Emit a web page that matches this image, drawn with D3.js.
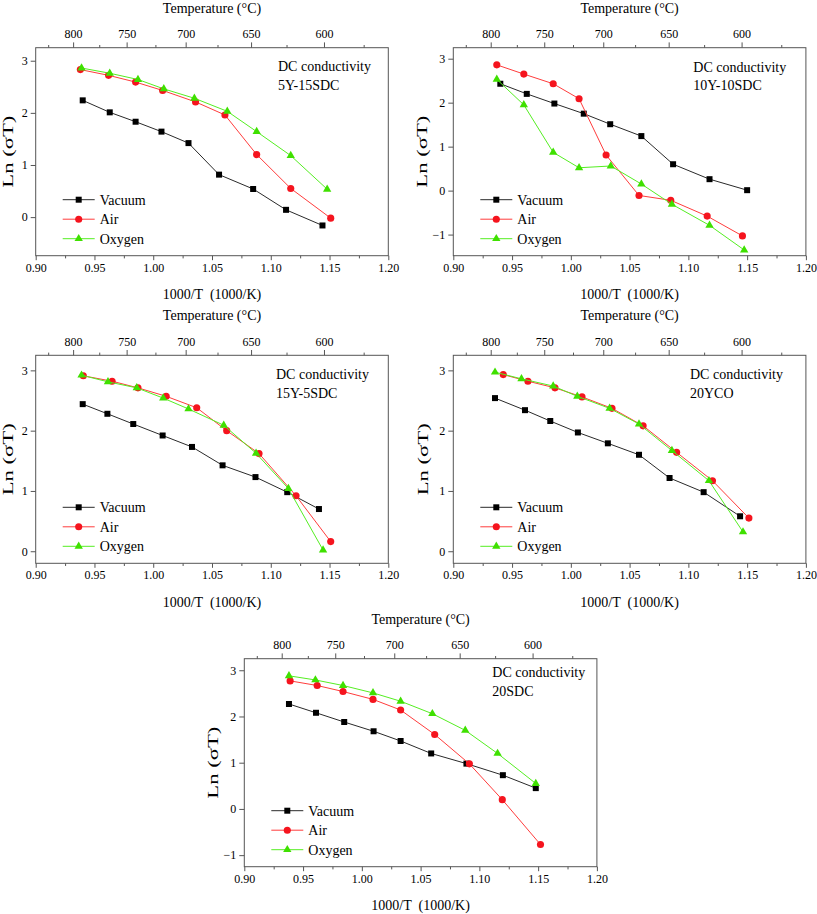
<!DOCTYPE html>
<html>
<head>
<meta charset="utf-8">
<script src="https://cdn.jsdelivr.net/npm/d3@7"></script>
<style>
  body { margin: 0; background: #fff; }
  text { font-family: "Liberation Serif", "Times New Roman", serif; fill: #000; }
</style>
</head>
<body>
<script>
// ---- data ----
let samples = ["5Y-15SDC", "10Y-10SDC", "15Y-5SDC", "20YCO", "20SDC"];
let seriesNames = ["Vacuum", "Air", "Oxygen"];

let xMajor = [0.90, 0.95, 1.00, 1.05, 1.10, 1.15, 1.20];
let xMinor = [0.925, 0.975, 1.025, 1.075, 1.125, 1.175];
let tempMajor = [800, 750, 700, 650, 600];
let tempMinor = [825, 775, 725, 675, 625, 575];

// y axis extent for each panel
let yExtents = [[-0.74, 3.25], [-1.48, 3.25], [-0.2, 3.25], [-0.2, 3.25], [-1.25, 3.25]];

// 5Y-15SDC
let p1Vacuum = [[0.940,2.24],[0.963,2.01],[0.985,1.83],[1.007,1.64],[1.030,1.42],[1.056,0.815],[1.085,0.54],[1.113,0.14],[1.144,-0.16]];
let p1Air    = [[0.938,2.83],[0.962,2.72],[0.985,2.59],[1.008,2.43],[1.036,2.21],[1.061,1.96],[1.088,1.20],[1.117,0.55],[1.151,-0.02]];
let p1Oxygen = [[0.939,2.86],[0.963,2.76],[0.987,2.64],[1.009,2.46],[1.035,2.28],[1.063,2.03],[1.088,1.64],[1.117,1.18],[1.148,0.535]];
// 10Y-10SDC
let p2Vacuum = [[0.940,2.43],[0.9625,2.20],[0.986,1.98],[1.011,1.75],[1.0335,1.51],[1.060,1.24],[1.087,0.60],[1.118,0.26],[1.150,0.01]];
let p2Air    = [[0.937,2.86],[0.960,2.65],[0.985,2.43],[1.007,2.09],[1.030,0.81],[1.058,-0.11],[1.085,-0.22],[1.116,-0.58],[1.146,-1.03]];
let p2Oxygen = [[0.937,2.53],[0.960,1.95],[0.985,0.87],[1.007,0.52],[1.034,0.56],[1.060,0.15],[1.086,-0.31],[1.118,-0.79],[1.1475,-1.35]];
// 15Y-5SDC
let p3Vacuum = [[0.940,2.44],[0.961,2.28],[0.983,2.11],[1.008,1.92],[1.033,1.73],[1.059,1.425],[1.087,1.23],[1.114,0.98],[1.141,0.70]];
let p3Air    = [[0.9405,2.91],[0.965,2.82],[0.987,2.71],[1.011,2.57],[1.037,2.38],[1.0625,2.00],[1.090,1.62],[1.1215,0.92],[1.151,0.16]];
let p3Oxygen = [[0.939,2.92],[0.9615,2.81],[0.986,2.71],[1.0085,2.54],[1.030,2.36],[1.060,2.09],[1.0875,1.625],[1.115,1.04],[1.1445,0.02]];
// 20YCO
let p4Vacuum = [[0.9355,2.54],[0.961,2.34],[0.9825,2.16],[1.006,1.97],[1.0315,1.79],[1.058,1.60],[1.084,1.215],[1.113,0.98],[1.144,0.58]];
let p4Air    = [[0.9425,2.93],[0.9635,2.82],[0.9865,2.71],[1.0095,2.56],[1.035,2.37],[1.0615,2.08],[1.090,1.64],[1.1205,1.17],[1.1515,0.55]];
let p4Oxygen = [[0.9355,2.97],[0.958,2.86],[0.985,2.74],[1.0055,2.57],[1.033,2.37],[1.058,2.11],[1.086,1.67],[1.1175,1.17],[1.1465,0.32]];
// 20SDC
let p5Vacuum = [[0.938,2.27],[0.961,2.08],[0.985,1.88],[1.010,1.68],[1.033,1.47],[1.059,1.20],[1.089,0.98],[1.120,0.73],[1.148,0.45]];
let p5Air    = [[0.939,2.77],[0.962,2.67],[0.984,2.54],[1.0095,2.37],[1.033,2.14],[1.062,1.61],[1.0915,0.975],[1.1195,0.20],[1.152,-0.77]];
let p5Oxygen = [[0.938,2.88],[0.9605,2.79],[0.984,2.67],[1.0095,2.51],[1.033,2.33],[1.060,2.06],[1.088,1.70],[1.1155,1.20],[1.148,0.55]];

let panelData = [
    [p1Vacuum, p1Air, p1Oxygen],
    [p2Vacuum, p2Air, p2Oxygen],
    [p3Vacuum, p3Air, p3Oxygen],
    [p4Vacuum, p4Air, p4Oxygen],
    [p5Vacuum, p5Air, p5Oxygen]
];

// ---- layout ----
let plot_w = 352.6, plot_h = 208;
let panels = [
    {x: 35.7,  y: 47.7,  ylab: 28, txtx: 278,   txty: 71},
    {x: 453.3, y: 47.7,  ylab: 31, txtx: 693.3, txty: 71.5},
    {x: 35.7,  y: 355.3, ylab: 28, txtx: 276,   txty: 379},
    {x: 453.3, y: 355.3, ylab: 30, txtx: 690,   txty: 379},
    {x: 244.3, y: 658.7, ylab: 31, txtx: 492.3, txty: 677}
];
let lineCol   = ["#2a2a2a", "#ff3c3c", "#55ee22"];
let markerCol = ["#000000", "#f5141e", "#3fe000"];
let symbols   = [d3.symbolSquare, d3.symbolCircle, d3.symbolTriangle];
let symSize   = [36, 40, 30];
let axisCol = "#555";

let svg = d3.select('body').append('svg')
    .attr('width', 817)
    .attr('height', 914);

function toInvT(T) { return 1000 / (T + 273.15); }

function styleAxis(g, fs) {
    g.select('.domain').remove();
    g.selectAll('line').attr('stroke', axisCol);
    g.selectAll('text').attr('font-size', fs).attr('font-family', '"Liberation Serif", serif').attr('fill', '#000');
}

function drawPanel(i) {
    let p = panels[i];
    let g = svg.append('g').attr('transform', 'translate(' + p.x + ',' + p.y + ')');
    let x = d3.scaleLinear().domain([0.90, 1.20]).range([0, plot_w]);
    let y = d3.scaleLinear().domain(yExtents[i]).range([plot_h, 0]);
    let yTicks = d3.range(Math.ceil(yExtents[i][0]), Math.floor(yExtents[i][1]) + 1);

    // bottom axis
    g.append('g').attr('transform', 'translate(0,' + plot_h + ')')
        .call(d3.axisBottom(x).tickValues(xMajor).tickFormat(d3.format('.2f')).tickSize(4.5).tickPadding(3))
        .call(s => styleAxis(s, 12));
    g.append('g').attr('transform', 'translate(0,' + plot_h + ')')
        .call(d3.axisBottom(x).tickValues(xMinor).tickFormat('').tickSize(2.7))
        .call(s => styleAxis(s, 12));

    // top axis, temperature in degrees C
    g.append('g')
        .call(d3.axisTop(x).tickValues(tempMajor.map(toInvT))
            .tickFormat(d => Math.round(1000 / d - 273.15)).tickSize(5.3).tickPadding(4))
        .call(s => styleAxis(s, 12));
    g.append('g')
        .call(d3.axisTop(x).tickValues(tempMinor.map(toInvT)).tickFormat('').tickSize(2.7))
        .call(s => styleAxis(s, 12));

    // left axis
    g.append('g')
        .call(d3.axisLeft(y).tickValues(yTicks).tickFormat(d3.format('d')).tickSize(5).tickPadding(3))
        .call(s => styleAxis(s, 12));

    // frame
    g.append('rect')
        .attr('width', plot_w).attr('height', plot_h)
        .attr('fill', 'none').attr('stroke', axisCol).attr('stroke-width', 1);

    // axis titles
    g.append('text').attr('x', plot_w / 2).attr('y', plot_h + 43.3)
        .attr('text-anchor', 'middle').attr('font-size', 14)
        .attr('xml:space', 'preserve')
        .text('1000/T  (1000/K)');
    g.append('text').attr('x', plot_w / 2).attr('y', -35.2)
        .attr('text-anchor', 'middle').attr('font-size', 14)
        .text('Temperature (°C)');
    g.append('text')
        .attr('transform', 'translate(' + (-p.ylab + 5) + ',' + (plot_h / 2) + ') rotate(-90)')
        .attr('text-anchor', 'middle').attr('font-size', 15)
        .attr('textLength', 72).attr('lengthAdjust', 'spacingAndGlyphs')
        .text('Ln (σT)');

    // sample label
    svg.append('text').attr('x', p.txtx).attr('y', p.txty).attr('font-size', 14).text('DC conductivity');
    svg.append('text').attr('x', p.txtx).attr('y', p.txty + 18.5).attr('font-size', 14).text(samples[i]);

    // series
    let line = d3.line().x(d => x(d[0])).y(d => y(d[1]));
    panelData[i].forEach(function(pts, k) {
        g.append('path').datum(pts)
            .attr('d', line).attr('fill', 'none')
            .attr('stroke', lineCol[k]).attr('stroke-width', 1);
        g.selectAll(null).data(pts).enter().append('path')
            .attr('d', d3.symbol().type(symbols[k]).size(symSize[k]))
            .attr('transform', d => 'translate(' + x(d[0]) + ',' + y(d[1]) + ')')
            .attr('fill', markerCol[k]);
    });

    // legend
    seriesNames.forEach(function(name, k) {
        let ly = plot_h - 56 + k * 19.5;
        g.append('line').attr('x1', 27).attr('x2', 59).attr('y1', ly).attr('y2', ly)
            .attr('stroke', lineCol[k]).attr('stroke-width', 1);
        g.append('path')
            .attr('d', d3.symbol().type(symbols[k]).size(symSize[k]))
            .attr('transform', 'translate(43,' + ly + ')')
            .attr('fill', markerCol[k]);
        g.append('text').attr('x', 64).attr('y', ly + 5).attr('font-size', 14).text(name);
    });
}

for (let i = 0; i < panels.length; i++) {
    drawPanel(i);
}
</script>
</body>
</html>
